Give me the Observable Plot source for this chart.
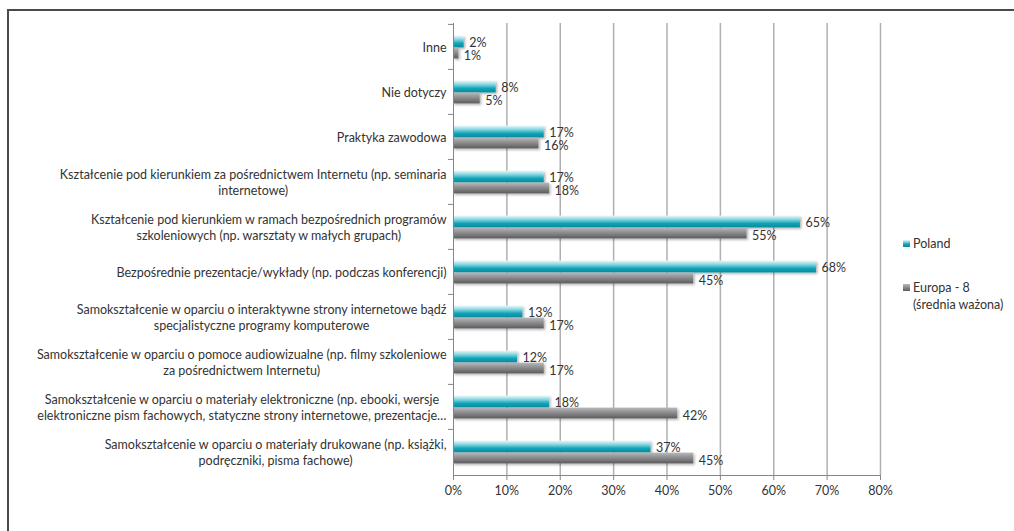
<!DOCTYPE html>
<html><head><meta charset="utf-8">
<script src="https://cdn.jsdelivr.net/npm/d3@7"></script>
<script src="https://cdn.jsdelivr.net/npm/@observablehq/plot@0.6"></script>
<style>
html,body{margin:0;padding:0;background:#fff;overflow:hidden;}
#wrap{position:relative;width:1014px;height:531px;font-family:Lato, sans-serif;}
#border{position:absolute;left:7px;top:9px;width:1030px;height:540px;border-left:2px solid #4a4a4a;border-top:2px solid #4a4a4a;box-sizing:border-box;}
#chart{position:absolute;left:0;top:0;}
#legend{position:absolute;left:903px;top:235px;font-size:12.5px;color:#333;line-height:17px;}
.item{display:flex;align-items:flex-start;}
.sw{width:7px;height:7px;margin-top:5px;margin-right:3px;flex:none;}
</style>
</head><body>
<div id="wrap"><div id="border"></div><div id="chart"></div><div id="legend"></div></div>
<script>
const categories = [
  "Inne",
  "Nie dotyczy",
  "Praktyka zawodowa",
  "Kształcenie pod kierunkiem za pośrednictwem Internetu (np. seminaria\ninternetowe)",
  "Kształcenie pod kierunkiem w ramach bezpośrednich programów\nszkoleniowych (np. warsztaty w małych grupach)",
  "Bezpośrednie prezentacje/wykłady (np. podczas konferencji)",
  "Samokształcenie w oparciu o interaktywne strony internetowe bądź\nspecjalistyczne programy komputerowe",
  "Samokształcenie w oparciu o pomoce audiowizualne (np. filmy szkoleniowe\nza pośrednictwem Internetu)",
  "Samokształcenie w oparciu o materiały elektroniczne (np. ebooki, wersje\nelektroniczne pism fachowych, statyczne strony internetowe, prezentacje…",
  "Samokształcenie w oparciu o materiały drukowane (np. książki,\npodręczniki, pisma fachowe)"
];
const poland = [2, 8, 17, 17, 65, 68, 13, 12, 18, 37];
const europa = [1, 5, 16, 18, 55, 45, 17, 17, 42, 45];
const seriesNames = ["Poland", "Europa - 8\n(średnia ważona)"];
const xTicks = [0, 10, 20, 30, 40, 50, 60, 70, 80];

const rowsPL = categories.map((c, i) => ({category: c, value: poland[i]}));
const rowsEU = categories.map((c, i) => ({category: c, value: europa[i]}));

const W = 1014, H = 531, mL = 453, mR = 134, mT = 23, mB = 56;
const step = (H - mT - mB) / categories.length;

const chart = Plot.plot({
  width: W, height: H,
  marginLeft: mL, marginRight: mR, marginTop: mT, marginBottom: mB,
  style: {fontFamily: "Lato, sans-serif", fontSize: "12.5px", color: "#333", background: "transparent"},
  x: {domain: [0, 80], label: null},
  y: {domain: categories, padding: 0, label: null},
  marks: [
    Plot.gridX(xTicks.slice(1), {stroke: "#b0b0b0", strokeOpacity: 1, strokeWidth: 1.5}),
    Plot.barX(rowsPL, {x: "value", y: "category", fill: "url(#gPL)", insetTop: step/2 - 11, insetBottom: step/2 - 1}),
    Plot.barX(rowsEU, {x: "value", y: "category", fill: "url(#gEU)", insetTop: step/2 + 1, insetBottom: step/2 - 12}),
    Plot.text(rowsPL, {x: "value", y: "category", text: d => d.value + "%", textAnchor: "start", dx: 5, dy: -4.5, fill: "#333"}),
    Plot.text(rowsEU, {x: "value", y: "category", text: d => d.value + "%", textAnchor: "start", dx: 5, dy: 8.5, fill: "#333"}),
    Plot.frame({anchor: "bottom", stroke: "#868686"}),
    Plot.frame({anchor: "left", stroke: "#868686"}),
    Plot.axisX({ticks: xTicks, tickFormat: d => d + "%", tickSize: 5, tickPadding: 6, stroke: "#868686", fill: "#333", label: null}),
    Plot.axisY({tickSize: 0, tickPadding: 7, lineHeight: 1.3, fill: "#333", label: null}),
    Plot.axisY({tickSize: 5, tickFormat: () => "", dy: -step/2, stroke: "#868686", label: null})
  ]
});

document.getElementById("chart").appendChild(chart);

// gradients + shadow
const defs = document.createElementNS("http://www.w3.org/2000/svg", "defs");
defs.innerHTML = `
<linearGradient id="gPL" x1="0" y1="0" x2="0" y2="1">
  <stop offset="0" stop-color="#eaf9fb"/>
  <stop offset="0.35" stop-color="#7fd3df"/>
  <stop offset="0.65" stop-color="#12a4b8"/>
  <stop offset="1" stop-color="#0a8a9c"/>
</linearGradient>
<linearGradient id="gEU" x1="0" y1="0" x2="0" y2="1">
  <stop offset="0" stop-color="#b9b9bb"/>
  <stop offset="0.4" stop-color="#929294"/>
  <stop offset="1" stop-color="#5c5c5e"/>
</linearGradient>
<filter id="shadow" x="-5%" y="-30%" width="110%" height="180%">
  <feDropShadow dx="1.5" dy="1.5" stdDeviation="1" flood-color="#000" flood-opacity="0.3"/>
</filter>`;
chart.insertBefore(defs, chart.firstChild);
chart.querySelectorAll('g[aria-label="bar"]').forEach(g => g.setAttribute("filter", "url(#shadow)"));

// center multi-line category labels as blocks (like the original)
chart.querySelectorAll('g[aria-label="y-axis tick label"] text').forEach(t => {
  const spans = t.querySelectorAll("tspan");
  if (spans.length > 1) {
    let maxW = 0;
    spans.forEach(s => { maxW = Math.max(maxW, s.getComputedTextLength()); });
    t.setAttribute("text-anchor", "middle");
    spans.forEach(s => s.setAttribute("x", -maxW / 2));
  }
});

// legend
const lg = document.getElementById("legend");
const swBg = ["linear-gradient(#eaf9fb,#12a4b8 60%,#0a8a9c)", "linear-gradient(#b9b9bb,#5c5c5e)"];
seriesNames.forEach((n, i) => {
  const it = document.createElement("div");
  it.className = "item";
  it.style.marginBottom = i === 0 ? "27px" : "0";
  const sw = document.createElement("div");
  sw.className = "sw";
  sw.style.background = swBg[i];
  const tx = document.createElement("div");
  tx.style.whiteSpace = "pre";
  tx.textContent = n;
  it.appendChild(sw); it.appendChild(tx);
  lg.appendChild(it);
});
</script>
</body></html>
